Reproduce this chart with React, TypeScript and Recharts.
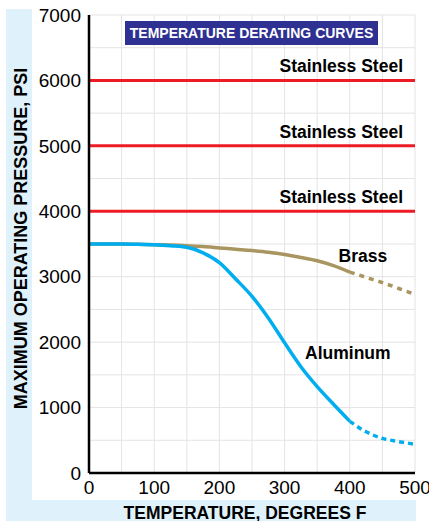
import React from 'react';
import { LineChart, Line, XAxis, YAxis, CartesianGrid, ReferenceLine, ReferenceDot, Label } from 'recharts';

// temperature (deg F) sample points
const temps = [0, 25, 50, 75, 100, 125, 150, 175, 200, 225, 250, 275, 300, 325, 350, 375, 400, 425, 450, 475, 500];

// pressure in psi; solid part up to 400 F, dotted beyond
const brassSolid = [3500, 3500, 3500, 3495, 3490, 3485, 3475, 3460, 3440, 3420, 3400, 3375, 3340, 3295, 3245, 3170, 3070, null, null, null, null];
const brassDotted = [null, null, null, null, null, null, null, null, null, null, null, null, null, null, null, null, 3070, 2990, 2910, 2820, 2730];
const aluminumSolid = [3500, 3500, 3500, 3495, 3490, 3475, 3450, 3365, 3215, 2965, 2700, 2370, 1990, 1625, 1320, 1050, 790, null, null, null, null];
const aluminumDotted = [null, null, null, null, null, null, null, null, null, null, null, null, null, null, null, null, 790, 630, 530, 480, 440];

const steelLevels = [6000, 5000, 4000];

const xTicks = [0, 100, 200, 300, 400, 500];
const yTicks = [0, 1000, 2000, 3000, 4000, 5000, 6000, 7000];
const gridX = [0, 50, 100, 150, 200, 250, 300, 350, 400, 450, 500];
const gridY = [0, 500, 1000, 1500, 2000, 2500, 3000, 3500, 4000, 4500, 5000, 5500, 6000, 6500, 7000];

const FONT = '"Liberation Sans", Arial, Helvetica, sans-serif';
const BRASS = '#a8955f';
const ALU = '#00aeef';
const RED = '#ed1c24';
const BG = '#dff1fb';

const data = temps.map((t, i) => ({
  t,
  brass: brassSolid[i],
  brassDot: brassDotted[i],
  al: aluminumSolid[i],
  alDot: aluminumDotted[i],
}));

const steelLabel = (props: any) => {
  const vb = props.viewBox;
  return (
    <text x={vb.x + vb.width - 12} y={vb.y - 8} textAnchor="end" fontSize={17.5} fontWeight="bold" fill="#000" fontFamily={FONT}>
      Stainless Steel
    </text>
  );
};

const yTitle = (props: any) => {
  const vb = props.viewBox;
  const x = vb.x + 27;
  const y = vb.y + vb.height / 2 - 5.5;
  return (
    <text x={x} y={y} transform={`rotate(-90, ${x}, ${y})`} textAnchor="middle" fontSize={18} fontWeight="bold" fill="#000" fontFamily={FONT}>
      MAXIMUM OPERATING PRESSURE, PSI
    </text>
  );
};

const xTitle = (props: any) => {
  const vb = props.viewBox;
  return (
    <text x={vb.x + vb.width / 2 - 7} y={vb.y + 45.5} textAnchor="middle" fontSize={17.5} fontWeight="bold" fill="#000" fontFamily={FONT}>
      TEMPERATURE, DEGREES F
    </text>
  );
};

export default function App() {
  return (
    <div style={{ position: 'absolute', left: 0, top: 0, width: 429, height: 521, background: '#fff', fontFamily: FONT, overflow: 'hidden' }}>
      {/* light blue frame behind the white panel */}
      <div style={{ position: 'absolute', left: 6, top: 9, width: 410, height: 512, background: BG }} />
      <div style={{ position: 'absolute', left: 32, top: 0, width: 384, height: 500, background: '#fff' }} />

      <div style={{ position: 'absolute', left: 0, top: 0 }}>
        <LineChart width={429} height={521} data={data} margin={{ top: 15, right: 14, bottom: 0, left: 0 }}>
          <CartesianGrid stroke="#e4e4e4" strokeWidth={1} horizontalValues={gridY} verticalValues={gridX} />
          <XAxis
            dataKey="t"
            type="number"
            domain={[0, 500]}
            ticks={xTicks}
            interval={0}
            height={48}
            axisLine={{ stroke: '#000', strokeWidth: 2.5 }}
            tickLine={false}
            tick={{ fill: '#000', fontSize: 19, fontFamily: FONT }}
            label={xTitle}
          />
          <YAxis
            type="number"
            domain={[0, 7000]}
            ticks={yTicks}
            interval={0}
            width={89}
            axisLine={{ stroke: '#000', strokeWidth: 2.5 }}
            tickLine={false}
            tick={{ fill: '#000', fontSize: 19, fontFamily: FONT }}
            label={yTitle}
          />
          {steelLevels.map((v) => (
            <ReferenceLine key={v} y={v} stroke={RED} strokeWidth={3} label={steelLabel} />
          ))}
          <Line type="monotone" dataKey="brass" stroke={BRASS} strokeWidth={3.5} dot={false} isAnimationActive={false} />
          <Line type="monotone" dataKey="brassDot" stroke={BRASS} strokeWidth={3.5} strokeDasharray="5 5" dot={false} isAnimationActive={false} />
          <Line type="monotone" dataKey="al" stroke={ALU} strokeWidth={3.5} dot={false} isAnimationActive={false} />
          <Line type="monotone" dataKey="alDot" stroke={ALU} strokeWidth={3.5} strokeDasharray="5 4" dot={false} isAnimationActive={false} />
          <ReferenceDot x={420} y={3320} r={0} fill="none" stroke="none">
            <Label value="Brass" position="center" fontSize={17.5} fontWeight="bold" fill="#000" fontFamily={FONT} />
          </ReferenceDot>
          <ReferenceDot x={397} y={1830} r={0} fill="none" stroke="none">
            <Label value="Aluminum" position="center" fontSize={17.5} fontWeight="bold" fill="#000" fontFamily={FONT} />
          </ReferenceDot>
        </LineChart>
      </div>

      <div
        style={{
          position: 'absolute',
          left: 125,
          top: 21,
          width: 253,
          height: 24,
          background: '#2e3192',
          color: '#fff',
          fontSize: 14,
          fontWeight: 'bold',
          lineHeight: '24px',
          textAlign: 'center',
          fontFamily: FONT,
        }}
      >
        TEMPERATURE DERATING CURVES
      </div>
    </div>
  );
}
